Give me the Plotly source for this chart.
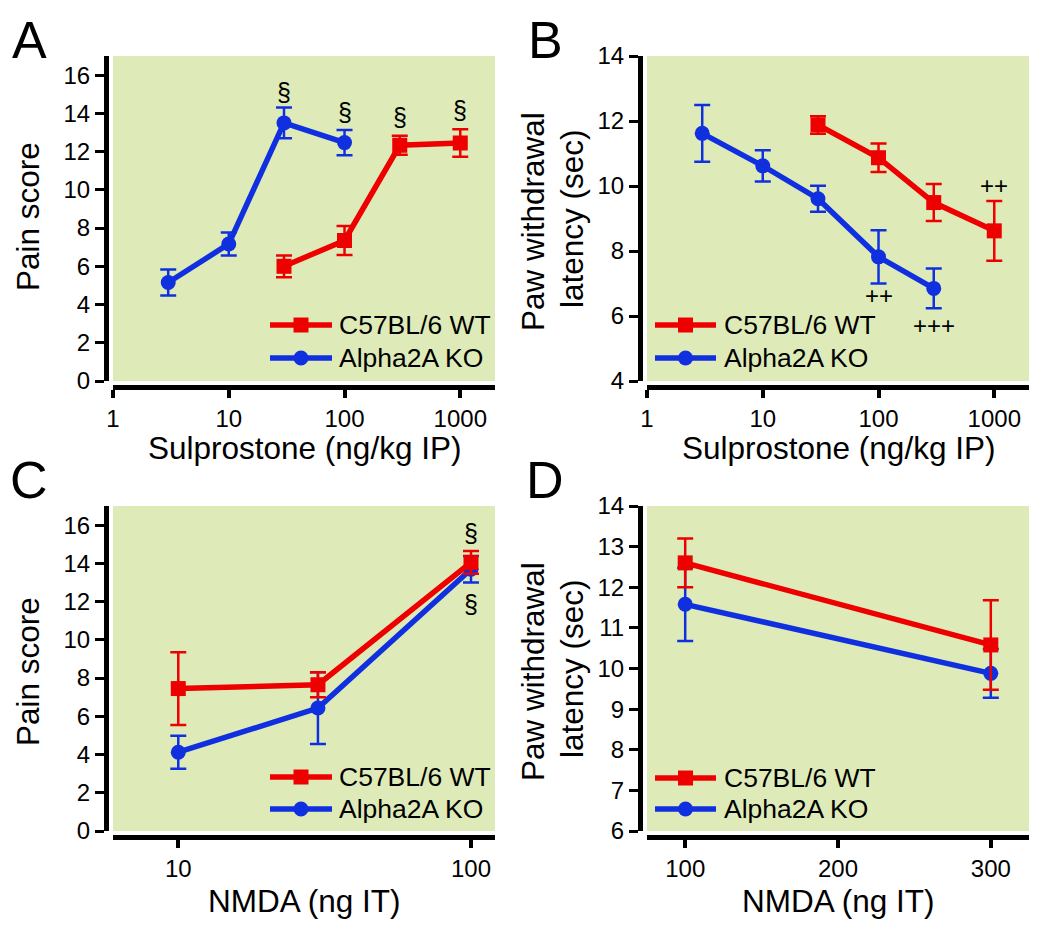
import math
import plotly.graph_objects as go

# panel A - sulprostone, pain score
a_dose_wt = [30, 100, 300, 1000]
a_wt = [6.0, 7.35, 12.33, 12.45]
a_wt_err = [0.57, 0.76, 0.5, 0.72]
a_dose_ko = [3, 10, 30, 100]
a_ko = [5.15, 7.17, 13.5, 12.47]
a_ko_err = [0.68, 0.6, 0.8, 0.66]

# panel B - sulprostone, paw withdrawal latency
b_dose_wt = [30, 100, 300, 1000]
b_wt = [11.88, 10.87, 9.49, 8.62]
b_wt_err = [0.27, 0.44, 0.57, 0.92]
b_dose_ko = [3, 10, 30, 100, 300]
b_ko = [11.62, 10.62, 9.61, 7.82, 6.85]
b_ko_err = [0.87, 0.48, 0.4, 0.82, 0.61]

# panel C - NMDA, pain score
c_dose = [10, 30, 100]
c_wt = [7.45, 7.65, 14.05]
c_wt_err = [1.9, 0.65, 0.6]
c_ko = [4.12, 6.43, 13.69]
c_ko_err = [0.86, 1.88, 0.69]

# panel D - NMDA, paw withdrawal latency
d_dose = [100, 300]
d_wt = [12.6, 10.58]
d_wt_err = [0.6, 1.1]
d_ko = [11.58, 9.88]
d_ko_err = [0.9, 0.6]

# significance marks: (panel, dose, y, text)
sig_marks = [
    ("A", 30, 15.13, "§"), ("A", 100, 14.08, "§"), ("A", 300, 13.81, "§"), ("A", 1000, 14.17, "§"),
    ("B", 100, 6.62, "++"), ("B", 300, 5.72, "+++"), ("B", 1000, 10.0, "++"),
    ("C", 100, 15.61, "§"), ("C", 100, 11.86, "§"),
]

# page body has an 8px margin, so the figure is a bit smaller than the window
OFF = 8
W, H = 1050 - 2 * OFF, 929 - 2 * OFF
RED = "#EE0000"
BLUE = "#1030E0"
BG = "#DEEBB9"
FONT = "Liberation Sans, Arial, sans-serif"


def fx(px):
    return (px - OFF) / W


def fy(py):
    return 1 - (py - OFF) / H


fig = go.Figure()


def add_series(x, y, err, color, symbol, axis):
    fig.add_trace(go.Scatter(
        x=x, y=y, mode="lines+markers", xaxis="x" + axis, yaxis="y" + axis,
        line=dict(color=color, width=5.5),
        marker=dict(color=color, size=15, symbol=symbol),
        error_y=dict(type="data", array=err, color=color, thickness=2.5, width=8),
        showlegend=False,
    ))


add_series(a_dose_ko, a_ko, a_ko_err, BLUE, "circle", "")
add_series(a_dose_wt, a_wt, a_wt_err, RED, "square", "")
add_series(b_dose_ko, b_ko, b_ko_err, BLUE, "circle", "2")
add_series(b_dose_wt, b_wt, b_wt_err, RED, "square", "2")
add_series(c_dose, c_ko, c_ko_err, BLUE, "circle", "3")
add_series(c_dose, c_wt, c_wt_err, RED, "square", "3")
add_series(d_dose, d_ko, d_ko_err, BLUE, "circle", "4")
add_series(d_dose, d_wt, d_wt_err, RED, "square", "4")

panels = {
    # name: (x domain px, y domain px, y-line x px, x-line y px)
    "A": ((113, 495), (56, 381), 106, 387),
    "B": ((647, 1029), (56, 381), 640, 387),
    "C": ((113, 495), (506, 831), 106, 837),
    "D": ((647, 1029), (506, 831), 640, 837),
}
suffix = {"A": "", "B": "2", "C": "3", "D": "4"}

xcfg = {
    "A": dict(type="log", range=[0, 3.3], tickvals=[1, 10, 100, 1000], ticktext=["1", "10", "100", "1000"]),
    "B": dict(type="log", range=[0, 3.3], tickvals=[1, 10, 100, 1000], ticktext=["1", "10", "100", "1000"]),
    "C": dict(type="log", range=[0.777, 2.082], tickvals=[10, 100], ticktext=["10", "100"]),
    "D": dict(type="linear", range=[75, 325], tickvals=[100, 200, 300]),
}
ycfg = {
    "A": dict(range=[0, 17], tickvals=list(range(0, 17, 2))),
    "B": dict(range=[4, 14], tickvals=list(range(4, 15, 2))),
    "C": dict(range=[0, 17], tickvals=list(range(0, 17, 2))),
    "D": dict(range=[6, 14], tickvals=list(range(6, 15, 1))),
}

tickfont = dict(family=FONT, size=24, color="black")
layout = {}
for name, (xd, yd, ylx, xly) in panels.items():
    s = suffix[name]
    layout["xaxis" + s] = dict(
        domain=[fx(xd[0]), fx(xd[1])], anchor="free", position=fy(xly), automargin=False,
        showline=True, linecolor="black", linewidth=5, showgrid=False, zeroline=False,
        ticks="outside", ticklen=8, tickwidth=4, tickcolor="black", tickfont=tickfont,
        fixedrange=True, **xcfg[name],
    )
    layout["yaxis" + s] = dict(
        domain=[fy(yd[1]), fy(yd[0])], anchor="free", position=fx(ylx), automargin=False,
        showline=True, linecolor="black", linewidth=5, showgrid=False, zeroline=False,
        ticks="outside", ticklen=9, tickwidth=3, tickcolor="black", tickfont=tickfont,
        fixedrange=True, **ycfg[name],
    )

fig.update_layout(
    template="none",
    width=W, height=H, margin=dict(l=0, r=0, t=0, b=0, pad=0),
    paper_bgcolor="white", plot_bgcolor=BG,
    font=dict(family=FONT, color="black"),
    **layout,
)

ann = []


def label(text, px, py, size, angle=0, yanchor="middle"):
    ann.append(dict(text=text, x=fx(px), y=fy(py), xref="paper", yref="paper",
                    xanchor="center", yanchor=yanchor, textangle=angle,
                    showarrow=False, font=dict(size=size, family=FONT)))


# panel letters
for name, (cx, cy) in {"A": (29, 9), "B": (545, 9), "C": (29, 449), "D": (545, 449)}.items():
    label(name, cx, cy, 52, yanchor="top")

# axis titles
for cx, cy, t in [(304, 448, "Sulprostone (ng/kg IP)"), (838, 448, "Sulprostone (ng/kg IP)"),
                  (304, 901, "NMDA (ng IT)"), (838, 901, "NMDA (ng IT)")]:
    label(t, cx, cy, 31.5)
for cx, cy, t in [(28, 217, "Pain score"), (28, 672, "Pain score"),
                  (533, 222, "Paw withdrawal"), (572, 219, "latency (sec)"),
                  (533, 672, "Paw withdrawal"), (572, 669, "latency (sec)")]:
    label(t, cx, cy, 31.5, -90)

# significance marks
for name, dose, yv, t in sig_marks:
    s = suffix[name]
    xv = math.log10(dose) if xcfg[name]["type"] == "log" else dose
    ann.append(dict(text=t, x=xv, y=yv, xref="x" + s, yref="y" + s, showarrow=False,
                    xanchor="center", yanchor="middle",
                    font=dict(size=25 if t == "§" else 24, family=FONT)))

# hand drawn legends
shapes = []
legend_pos = {"A": (270, 332, 337, 325, 358), "B": (655, 716, 722, 325, 358),
              "C": (270, 332, 337, 777, 809), "D": (655, 716, 722, 778, 809)}
for name, (l0, l1, tx, r1, r2) in legend_pos.items():
    for row, color, kind, text in [(r1, RED, "rect", "C57BL/6 WT"), (r2, BLUE, "circle", "Alpha2A KO")]:
        shapes.append(dict(type="line", xref="paper", yref="paper", x0=fx(l0), x1=fx(l1),
                           y0=fy(row), y1=fy(row), line=dict(color=color, width=5.5)))
        shapes.append(dict(type=kind, xref="paper", yref="paper",
                           xsizemode="pixel", ysizemode="pixel",
                           xanchor=fx((l0 + l1) / 2), yanchor=fy(row),
                           x0=-7.5, x1=7.5, y0=-7.5, y1=7.5,
                           fillcolor=color, line=dict(color=color, width=0)))
        ann.append(dict(text=text, x=fx(tx), y=fy(row), xref="paper", yref="paper",
                        xanchor="left", yanchor="middle", showarrow=False,
                        font=dict(size=26.5, family=FONT)))

fig.update_layout(annotations=ann, shapes=shapes)

fig.write_html("out.html")
